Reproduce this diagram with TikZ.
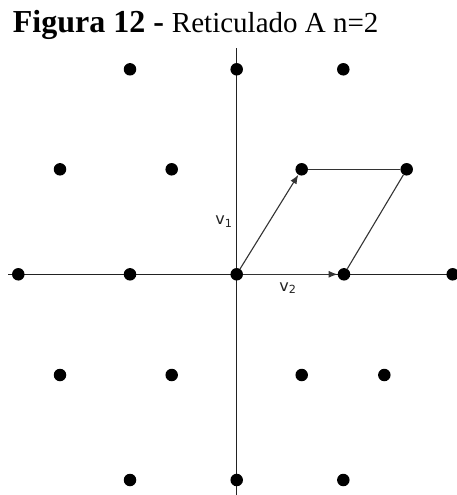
\documentclass[tikz,border=0pt]{standalone}
\usepackage{fontspec}
\setmainfont{Liberation Serif}
\newfontfamily\lblfont{DejaVu Sans}
\usetikzlibrary{arrows.meta}
\definecolor{linecol}{HTML}{222222}
\definecolor{veccol}{HTML}{333333}
\tikzset{
  dot/.style={circle,fill=black,inner sep=0pt,minimum size=12.5pt},
  axis/.style={draw=linecol,line width=1.5pt},
  vec/.style={draw=veccol,line width=1.1pt},
  vecarrow/.style={vec,-{Latex[length=9pt,width=7pt]}},
  lbl/.style={inner sep=0pt,text=linecol,font=\lblfont\fontsize{16}{18}\selectfont}
}
\begin{document}
\begin{tikzpicture}[x=1pt,y=-1pt]
\useasboundingbox (0,0) rectangle (456,495);
% title
\node[anchor=base west,inner sep=0pt] (title) at (12.7,33)
  {{\fontsize{32}{36}\selectfont\bfseries Figura 12 -}\hspace{8pt}{\fontsize{29}{34}\selectfont Reticulado A n=2}};
% axes
\coordinate (yt) at (236.7,48.3);
\coordinate (yb) at (236.7,495);
\coordinate (xl) at (8.3,274.3);
\coordinate (xr) at (456,274.3);
\draw[axis] (yt) -- (yb);
\draw[axis] (xl) -- (xr);
% row 1
\node[dot] (a1) at (130,69.3) {};
\node[dot] (a2) at (236.7,69.3) {};
\node[dot] (a3) at (343.3,69.3) {};
% row 2
\node[dot] (b1) at (60,169.3) {};
\node[dot] (b2) at (171.7,169.3) {};
\node[dot] (b3) at (301.7,169.3) {};
\node[dot] (b4) at (406.7,169.3) {};
% row 3 (axis)
\node[dot] (c1) at (18.3,274.3) {};
\node[dot] (c2) at (130,274.3) {};
\node[dot] (o) at (236.7,274.3) {};
\node[dot] (c4) at (344,274.3) {};
\node[dot] (c5) at (452.7,274.3) {};
% row 4
\node[dot] (d1) at (60,375) {};
\node[dot] (d2) at (171.7,375) {};
\node[dot] (d3) at (301.7,375) {};
\node[dot] (d4) at (384.3,375) {};
% row 5
\node[dot] (e1) at (130,480) {};
\node[dot] (e2) at (236.7,480) {};
\node[dot] (e3) at (343.3,480) {};
% vectors and parallelogram
\draw[vecarrow] (o) -- (b3);
\draw[vecarrow] (o) -- (c4);
\draw[vec] (b3) -- (b4);
\draw[vec] (b4) -- (c4);
% labels
\node[lbl] (v1) at (224,221.5) {v\textsubscript{1}};
\node[lbl] (v2) at (288,288) {v\textsubscript{2}};
\end{tikzpicture}
\end{document}
